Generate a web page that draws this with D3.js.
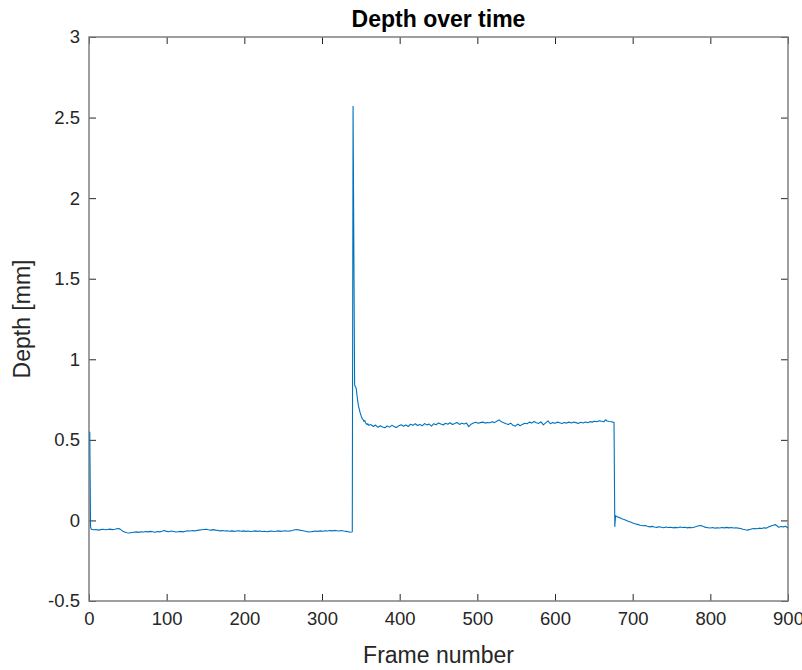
<!DOCTYPE html>
<html>
<head>
<meta charset="utf-8">
<script src="https://cdn.jsdelivr.net/npm/d3@7"></script>
<style>
  body { margin: 0; background: #fff; }
  svg { display: block; font-family: "Liberation Sans", Arial, Helvetica, sans-serif; }
</style>
</head>
<body>
<div id="chart"></div>
<script>
// data: [frame, depth in mm]
const restBefore = [
  [1, 0.55], [2, -0.04], [3, -0.055], [6, -0.058], [9, -0.056], [12, -0.06], [15, -0.057], [18, -0.055],
  [21, -0.058], [24, -0.056], [27, -0.054], [30, -0.057], [33, -0.055], [36, -0.052], [38, -0.05], [40, -0.054],
  [43, -0.065], [46, -0.072], [49, -0.076], [52, -0.078], [55, -0.075], [58, -0.073], [61, -0.071], [64, -0.074],
  [67, -0.07], [70, -0.072], [73, -0.069], [76, -0.071], [79, -0.068], [82, -0.07], [85, -0.073], [88, -0.069],
  [91, -0.071], [94, -0.067], [97, -0.062], [100, -0.068], [103, -0.07], [106, -0.066], [109, -0.069], [112, -0.072],
  [115, -0.07], [118, -0.068], [121, -0.071], [124, -0.067], [127, -0.065], [130, -0.066], [133, -0.063], [136, -0.065],
  [139, -0.062], [142, -0.06], [145, -0.058], [148, -0.056], [151, -0.055], [154, -0.058], [157, -0.06], [160, -0.057],
  [163, -0.06], [166, -0.062], [169, -0.065], [172, -0.063], [175, -0.066], [178, -0.064], [181, -0.067], [184, -0.065],
  [187, -0.068], [190, -0.066], [193, -0.064], [196, -0.067], [199, -0.065], [202, -0.068], [205, -0.066], [208, -0.069],
  [211, -0.067], [214, -0.065], [217, -0.068], [220, -0.066], [223, -0.069], [226, -0.067], [229, -0.07], [232, -0.068],
  [235, -0.066], [238, -0.069], [241, -0.067], [244, -0.065], [247, -0.068], [250, -0.066], [253, -0.064], [256, -0.067],
  [259, -0.065], [262, -0.062], [265, -0.058], [268, -0.056], [271, -0.06], [274, -0.063], [277, -0.066], [280, -0.069],
  [283, -0.072], [286, -0.07], [289, -0.068], [292, -0.066], [295, -0.068], [298, -0.065], [301, -0.067], [304, -0.064],
  [307, -0.066], [310, -0.063], [313, -0.065], [316, -0.062], [319, -0.064], [322, -0.066], [325, -0.063], [328, -0.066],
  [331, -0.068], [334, -0.07], [336, -0.073], [338, -0.072], [339, -0.07]
]

const spike = [
  [340, 2.57], [342, 0.84], [343, 0.83], [344, 0.82], [345, 0.78], [346, 0.74], [347, 0.71], [348, 0.69],
  [349, 0.67], [350, 0.655], [351, 0.64], [352, 0.63], [353, 0.625], [354, 0.615], [355, 0.62], [356, 0.605],
  [357, 0.6], [358, 0.595], [359, 0.6]
]

const plateau = [
  [360, 0.59], [363, 0.595], [366, 0.583], [369, 0.592], [372, 0.578], [375, 0.588], [378, 0.58], [381, 0.575],
  [384, 0.586], [387, 0.579], [390, 0.59], [393, 0.582], [396, 0.577], [399, 0.588], [402, 0.594], [405, 0.585],
  [408, 0.592], [411, 0.583], [414, 0.597], [417, 0.59], [420, 0.6], [423, 0.589], [426, 0.596], [429, 0.587],
  [432, 0.601], [435, 0.593], [438, 0.598], [441, 0.585], [444, 0.6], [447, 0.594], [450, 0.605], [453, 0.598],
  [456, 0.592], [459, 0.603], [462, 0.597], [465, 0.606], [468, 0.595], [471, 0.601], [474, 0.608], [477, 0.596],
  [480, 0.603], [483, 0.598], [486, 0.604], [489, 0.582], [492, 0.597], [495, 0.605], [498, 0.609], [501, 0.603],
  [504, 0.607], [507, 0.61], [510, 0.604], [513, 0.608], [516, 0.606], [519, 0.612], [522, 0.607], [525, 0.615],
  [528, 0.624], [531, 0.612], [534, 0.606], [537, 0.6], [540, 0.595], [543, 0.604], [546, 0.59], [549, 0.585],
  [552, 0.598], [555, 0.588], [558, 0.596], [561, 0.603], [564, 0.6], [567, 0.61], [570, 0.604], [573, 0.614],
  [576, 0.606], [579, 0.602], [582, 0.612], [585, 0.593], [588, 0.605], [591, 0.618], [594, 0.6], [597, 0.607],
  [600, 0.603], [603, 0.61], [606, 0.606], [609, 0.602], [612, 0.608], [615, 0.604], [618, 0.61], [621, 0.605],
  [624, 0.611], [627, 0.607], [630, 0.602], [633, 0.609], [636, 0.605], [639, 0.611], [642, 0.606], [645, 0.613],
  [648, 0.61], [651, 0.616], [654, 0.612], [657, 0.618], [660, 0.615], [663, 0.612], [665, 0.625], [667, 0.617],
  [670, 0.614], [673, 0.612], [676, 0.607]
]

const restAfter = [
  [677, -0.038], [678, 0.03], [680, 0.022], [683, 0.018], [686, 0.01], [689, 0.006], [692, 0.0], [695, -0.006],
  [698, -0.012], [701, -0.018], [704, -0.022], [707, -0.026], [710, -0.03], [713, -0.033], [716, -0.031], [719, -0.036],
  [722, -0.04], [725, -0.037], [728, -0.041], [731, -0.043], [734, -0.039], [737, -0.042], [740, -0.045], [743, -0.041],
  [746, -0.044], [749, -0.042], [752, -0.046], [755, -0.043], [758, -0.045], [761, -0.041], [764, -0.044], [767, -0.042],
  [770, -0.046], [773, -0.043], [776, -0.045], [779, -0.042], [782, -0.038], [785, -0.033], [788, -0.032], [791, -0.038],
  [794, -0.043], [797, -0.045], [800, -0.047], [803, -0.044], [806, -0.048], [809, -0.045], [812, -0.047], [815, -0.044],
  [818, -0.046], [821, -0.043], [824, -0.046], [827, -0.044], [830, -0.047], [833, -0.045], [836, -0.048], [839, -0.05],
  [842, -0.055], [845, -0.058], [848, -0.06], [851, -0.056], [854, -0.052], [857, -0.05], [860, -0.052], [863, -0.048],
  [866, -0.05], [869, -0.046], [872, -0.048], [875, -0.04], [878, -0.035], [881, -0.03], [884, -0.026], [886, -0.035],
  [888, -0.042], [891, -0.038], [894, -0.04], [897, -0.036], [900, -0.048]
]

const xTicks = [0, 100, 200, 300, 400, 500, 600, 700, 800, 900]
const yTicks = [-0.5, 0, 0.5, 1, 1.5, 2, 2.5, 3]

const depth = restBefore.concat(spike, plateau, restAfter)

// layout
const width = 802
const height = 670
const margin = { top: 37, right: 14, bottom: 69, left: 89 }
const innerW = width - margin.left - margin.right
const innerH = height - margin.top - margin.bottom

const svg = d3.select('#chart').append('svg')
  .attr('width', width)
  .attr('height', height)

const g = svg.append('g')
  .attr('transform', 'translate(' + margin.left + ',' + margin.top + ')')

const x = d3.scaleLinear().domain([0, 900]).range([0, innerW])
const y = d3.scaleLinear().domain([-0.5, 3]).range([innerH, 0])

// axes, MATLAB style: ticks point inward, on all four sides
const tickLen = 7
const fmt = d => String(d)

g.append('g')
  .attr('transform', 'translate(0,' + innerH + ')')
  .call(d3.axisBottom(x).tickValues(xTicks).tickFormat(fmt)
    .tickSizeInner(-tickLen).tickSizeOuter(0).tickPadding(11))
g.append('g')
  .call(d3.axisTop(x).tickValues(xTicks).tickFormat('')
    .tickSizeInner(-tickLen).tickSizeOuter(0))
g.append('g')
  .call(d3.axisLeft(y).tickValues(yTicks).tickFormat(fmt)
    .tickSizeInner(-tickLen).tickSizeOuter(0).tickPadding(9))
g.append('g')
  .attr('transform', 'translate(' + innerW + ',0)')
  .call(d3.axisRight(y).tickValues(yTicks).tickFormat('')
    .tickSizeInner(-tickLen).tickSizeOuter(0))

g.selectAll('.domain').remove()
g.selectAll('.tick line').attr('stroke', '#262626').attr('stroke-width', 1)
g.selectAll('.tick text')
  .attr('fill', '#262626')
  .style('font-size', '18.5px')
  .style('font-family', '"Liberation Sans", Arial, sans-serif')

// box
g.append('rect')
  .attr('x', 0)
  .attr('y', 0)
  .attr('width', innerW)
  .attr('height', innerH)
  .attr('fill', 'none')
  .attr('stroke', '#7f7f7f')
  .attr('stroke-width', 1.5)

// data line
const line = d3.line()
  .x(d => x(d[0]))
  .y(d => y(d[1]))

g.append('path')
  .datum(depth)
  .attr('d', line)
  .attr('fill', 'none')
  .attr('stroke', '#0072BD')
  .attr('stroke-width', 1.1)
  .attr('stroke-linejoin', 'round')

// labels
svg.append('text')
  .attr('x', margin.left + innerW / 2)
  .attr('y', 27)
  .attr('text-anchor', 'middle')
  .attr('fill', '#000')
  .style('font-size', '23px')
  .style('font-weight', 'bold')
  .text('Depth over time')

svg.append('text')
  .attr('x', margin.left + innerW / 2)
  .attr('y', 663)
  .attr('text-anchor', 'middle')
  .attr('fill', '#262626')
  .style('font-size', '23px')
  .text('Frame number')

svg.append('text')
  .attr('transform', 'translate(30,' + (margin.top + innerH / 2) + ') rotate(-90)')
  .attr('text-anchor', 'middle')
  .attr('fill', '#262626')
  .style('font-size', '23px')
  .text('Depth [mm]')
</script>
</body>
</html>
